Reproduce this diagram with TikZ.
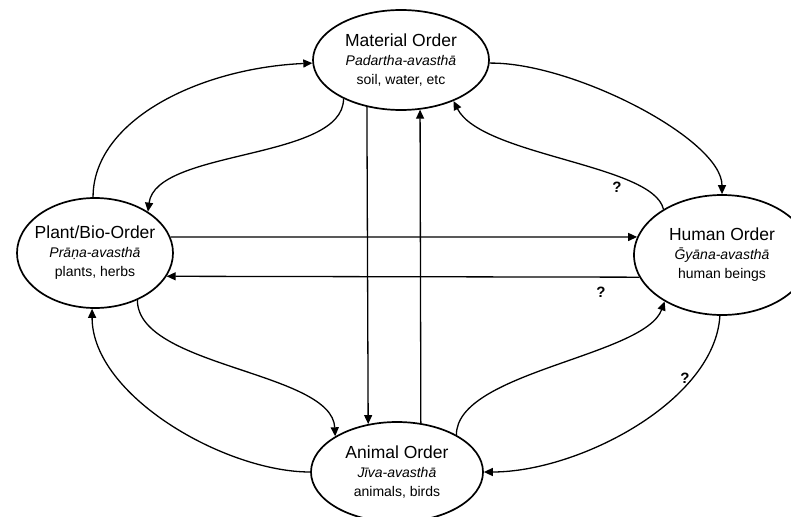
\documentclass[tikz,border=0pt]{standalone}
\usepackage{fontspec}
\setmainfont{Liberation Sans}
\usetikzlibrary{arrows.meta,shapes.geometric}

\newcommand{\otitle}[1]{{\fontsize{17.5}{20}\selectfont #1}}

\begin{document}
\begin{tikzpicture}[
      x=1pt, y=-1pt,
      font=\fontsize{14}{19}\selectfont,
      order/.style={draw, ellipse, line width=1.7pt, align=center,
                    inner sep=0pt, inner xsep=-8pt},
      arr/.style={-{Triangle[length=9pt, width=8pt]}, line width=1.3pt},
      qm/.style={font=\bfseries\fontsize{15}{15}\selectfont}
    ]
    \useasboundingbox (0,0) rectangle (791,516);
    \clip (0,0) rectangle (791,516);

    % ---- the four orders ----
    \node[order, minimum width=176pt, minimum height=100pt] (mat) at (401,60)
      {\otitle{Material Order}\\ \textit{Padartha-avasthā}\\ soil, water, etc};
    \node[order, minimum width=156pt, minimum height=110pt] (plant) at (95,253)
      {\otitle{Plant/Bio-Order}\\ \textit{Prāṇa-avasthā}\\ plants, herbs};
    \node[order, minimum width=176pt, minimum height=120pt] (human) at (722,255)
      {\otitle{Human Order}\\ \textit{Ḡyāna-avasthā}\\ human beings};
    \node[order, minimum width=172pt, minimum height=100pt] (animal) at (397,472)
      {\otitle{Animal Order}\\ \textit{Jīva-avasthā}\\ animals, birds};

    % ---- material <-> plant ----
    \draw[arr] (plant.92) .. controls +(0,-77) and +(-113,5) .. (mat.182);
    \draw[arr] (mat.214) .. controls +(0,62) and +(8,-63) .. (plant.38);

    % ---- material <-> human ----
    \draw[arr] (mat.358) .. controls +(83,-1) and +(0,-55) .. (human.90);
    \draw[arr] (human.142) .. controls +(-10,-45) and +(28,55) .. (mat.322);

    % ---- plant <-> human ----
    \draw[arr] (plant.12) -- (human.168);
    \draw[arr] (human.195) -- (plant.342);

    % ---- material <-> animal ----
    \draw[arr] (mat.234.6) -- (animal.121.6);
    \draw[arr] (animal.64.5) -- (mat.291.3);

    % ---- plant <-> animal ----
    \draw[arr] (plant.312) .. controls +(0,67) and +(-3,-65) .. (animal.150);
    \draw[arr] (animal.180) .. controls +(-85,0) and +(0,87) .. (plant.267);

    % ---- animal <-> human ----
    \draw[arr] (animal.32.6) .. controls +(0,-63) and +(-20,55) .. (human.219);
    \draw[arr] (human.268) .. controls +(-5,85) and +(95,0) .. (animal.0);

    % ---- open questions ----
    \node[qm] (q1) at (617,187) {?};
    \node[qm] (q2) at (601,292) {?};
    \node[qm] (q3) at (685,378) {?};
  \end{tikzpicture}
\end{document}
